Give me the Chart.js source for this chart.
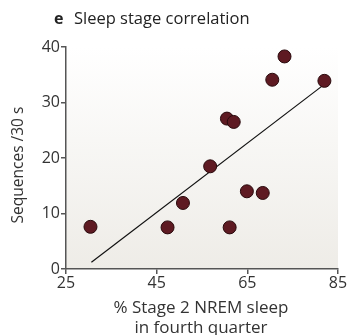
<!DOCTYPE html>
<html>
<head>
<meta charset="utf-8">
<script src="https://cdn.jsdelivr.net/npm/chart.js@4"></script>
<style>
  html, body { margin: 0; padding: 0; background: #fff; }
  #wrap { width: 348px; height: 335px; }
</style>
</head>
<body>
<div id="wrap"><canvas id="sleepChart" width="348" height="335"></canvas></div>
<script>
// data
const stage2Pct = [30.4, 47.4, 50.8, 56.8, 60.5, 62.0, 61.1, 64.9, 68.4, 70.5, 73.2, 82.0];
const sequences = [7.6, 7.5, 11.9, 18.5, 27.1, 26.5, 7.5, 14.0, 13.7, 34.1, 38.3, 33.9];
const fitX = [30.6, 82.2];
const fitY = [1.2, 33.4];
const xTicks = [25, 45, 65, 85];
const yTicks = [0, 10, 20, 30, 40];

const FONT = '"Open Sans", "Noto Sans", sans-serif';
const axisColor = '#555';

const plotBg = {
  id: 'plotBg',
  beforeDraw(chart) {
    const { ctx, chartArea: a } = chart;
    const g = ctx.createLinearGradient(0, a.top, 0, a.bottom);
    g.addColorStop(0, '#ffffff');
    g.addColorStop(1, '#eeece7');
    ctx.save();
    ctx.fillStyle = g;
    ctx.fillRect(a.left, a.top, a.right - a.left, a.bottom - a.top);
    ctx.restore();
  }
};

const labels = {
  id: 'labels',
  afterDraw(chart) {
    const ctx = chart.ctx;
    ctx.save();
    ctx.fillStyle = '#222';
    ctx.textBaseline = 'alphabetic';
    ctx.font = 'bold 16px ' + FONT;
    ctx.fillText('e', 54, 24);
    ctx.font = '16.5px ' + FONT;
    ctx.fillText('Sleep stage correlation', 74, 24);

    ctx.fillStyle = '#333';
    ctx.font = '17px ' + FONT;
    ctx.textAlign = 'center';
    ctx.fillText('% Stage 2 NREM sleep', 201, 313);
    ctx.fillText('in fourth quarter', 201, 333);

    ctx.font = '15.5px ' + FONT;
    ctx.translate(23, 165);
    ctx.rotate(-Math.PI / 2);
    ctx.fillText('Sequences /30 s', 0, 0);
    ctx.restore();
  }
};

const pts = stage2Pct.map((x, i) => ({ x: x, y: sequences[i] }));
const fit = fitX.map((x, i) => ({ x: x, y: fitY[i] }));

new Chart(document.getElementById('sleepChart'), {
  type: 'scatter',
  data: {
    datasets: [{
      data: pts,
      backgroundColor: '#5e1a22',
      borderColor: '#2a0a0d',
      borderWidth: 1,
      pointRadius: 6.5,
      order: 0
    }, {
      type: 'line',
      data: fit,
      borderColor: '#111',
      borderWidth: 1.2,
      pointRadius: 0,
      fill: false,
      order: 1
    }]
  },
  options: {
    responsive: false,
    animation: false,
    layout: { padding: { top: 47, right: 10, left: 0, bottom: 0 } },
    plugins: { legend: { display: false }, tooltip: { enabled: false } },
    scales: {
      x: {
        type: 'linear', min: 25, max: 85,
        afterBuildTicks: s => { s.ticks = xTicks.map(v => ({ value: v })); },
        afterFit: s => { s.height = 66; },
        grid: { drawOnChartArea: false, drawTicks: true, tickLength: 5, color: axisColor, lineWidth: 1.5 },
        border: { color: axisColor, width: 1.5 },
        ticks: { color: '#333', font: { family: FONT, size: 16 }, padding: 0, maxRotation: 0 }
      },
      y: {
        type: 'linear', min: 0, max: 40,
        afterBuildTicks: s => { s.ticks = yTicks.map(v => ({ value: v })); },
        afterFit: s => { s.width = 66; },
        grid: { drawOnChartArea: false, drawTicks: true, tickLength: 5, color: axisColor, lineWidth: 1.5 },
        border: { color: axisColor, width: 1.5 },
        ticks: { color: '#333', font: { family: FONT, size: 16 }, padding: 1 }
      }
    }
  },
  plugins: [plotBg, labels]
});
</script>
</body>
</html>
